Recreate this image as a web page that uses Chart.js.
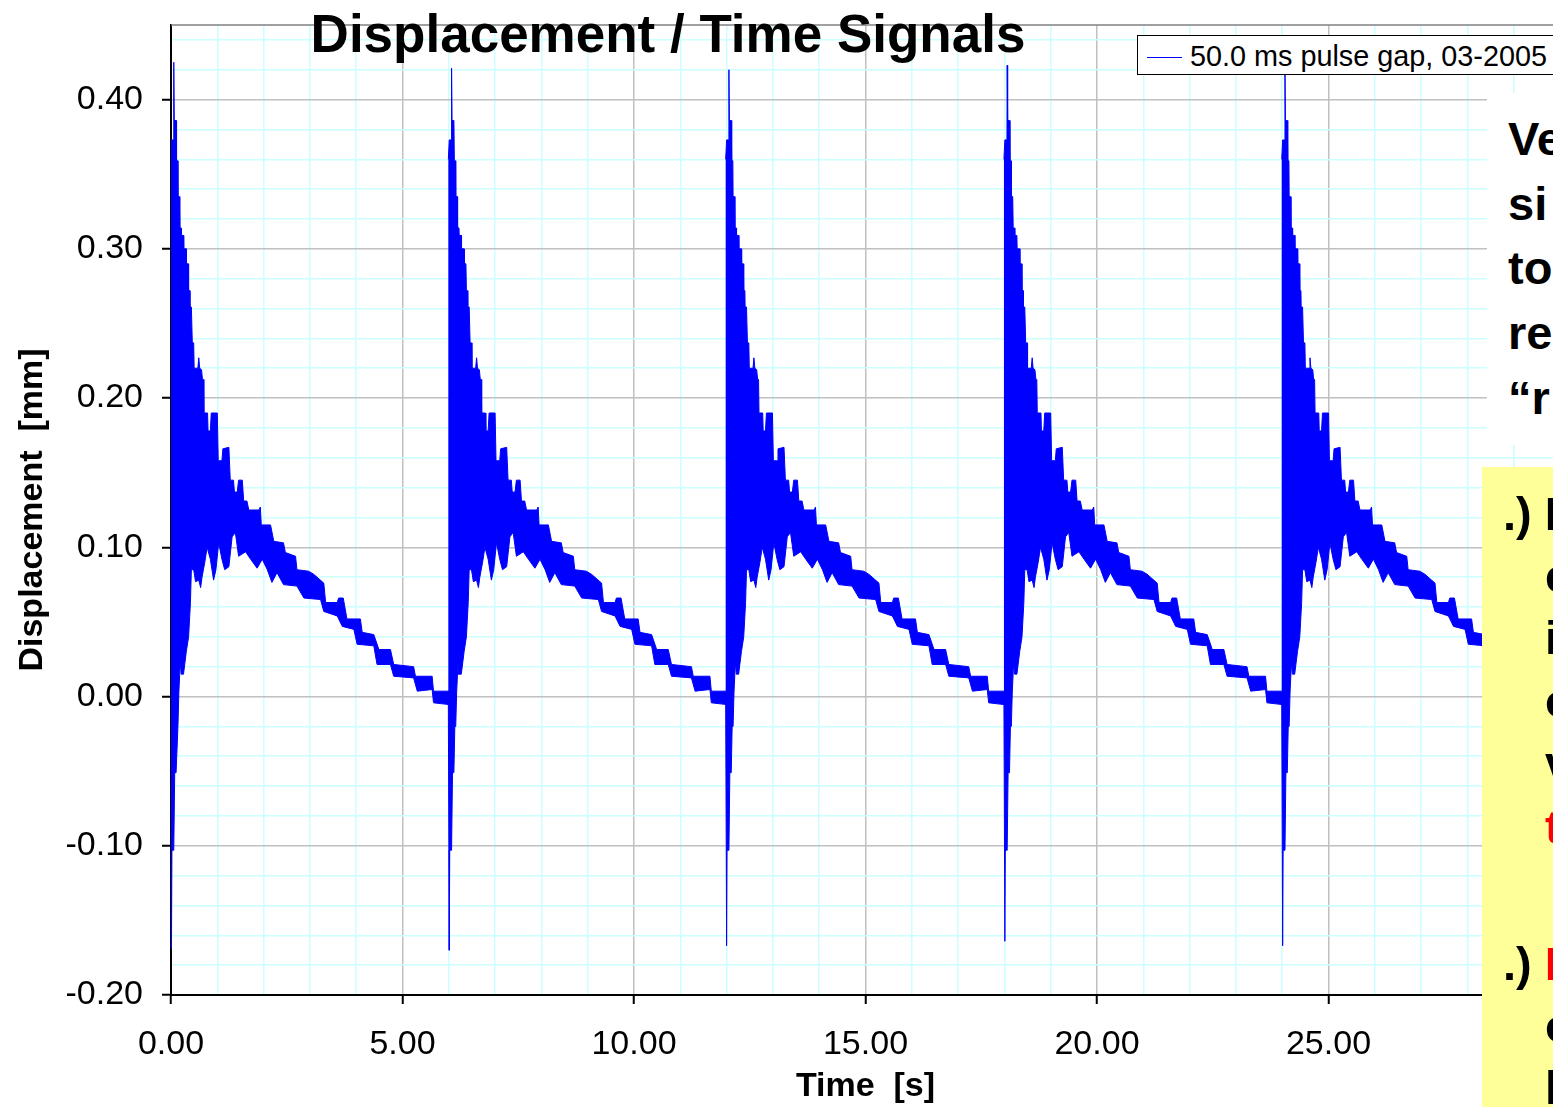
<!DOCTYPE html>
<html>
<head>
<meta charset="utf-8">
<script src="https://cdn.jsdelivr.net/npm/chart.js@4.4.1/dist/chart.umd.min.js"></script>
<style>
  html, body { margin:0; padding:0; background:#ffffff; overflow:hidden; width:1553px; height:1107px; }
  #wrap { position:absolute; left:0; top:0; width:1605px; height:1107px; }
  .ov { position:absolute; font-family:"Liberation Sans", Arial, sans-serif; white-space:pre; color:#000; }
  #title { left:0; top:7px; width:1336px; text-align:center; font-size:53px; line-height:53px; font-weight:bold; }
  #legend { left:1137px; top:35px; width:425px; height:38px; border:1.5px solid #000; background:#fff; }
  #legend .ln { position:absolute; left:9px; top:21px; width:35px; height:0; border-top:1.5px solid #0000FF; }
  #legend .tx { position:absolute; left:52px; top:6px; font-size:28.8px; line-height:28px; }
  #note1 { left:1487px; top:93px; width:90px; height:352px; background:#ffffff; }
  #note2 { left:1482px; top:467px; width:100px; height:640px; background:#FFFF99; }
  .nl { position:absolute; font-size:47px; line-height:47px; font-weight:bold; }
</style>
</head>
<body>
<div id="wrap"><canvas id="c" width="1605" height="1107"></canvas></div>
<div id="title" class="ov"></div>
<div id="legend" class="ov"><span class="ln"></span><span class="tx" id="legtx"></span></div>
<div id="note1" class="ov"></div>
<div id="note2" class="ov"></div>
<script>
// ---------------- data ----------------
const chartTitle = 'Displacement / Time Signals';
const xAxisTitle = 'Time  [s]';
const yAxisTitle = 'Displacement  [mm]';
const seriesLabel = '50.0 ms pulse gap, 03-2005';

// times [s] at which each displacement pulse starts
const pulseStarts = [0.02, 6.02, 12.01, 18.02, 24.02];
// highest and lowest value reached in each pulse [mm]
const pulsePeakMax = [0.425, 0.421, 0.420, 0.423, 0.419];
const pulsePeakMin = [-0.169, -0.170, -0.167, -0.164, -0.167];

// upper envelope of the signal after a pulse: time after pulse [s] / displacement [mm]
const upperT = [-0.03, -0.01, 0.035, 0.040, 0.050, 0.090, 0.100, 0.125, 0.130, 0.160,
                0.170, 0.200, 0.205, 0.250, 0.255, 0.310, 0.315, 0.350, 0.360, 0.385,
                0.390, 0.420, 0.440, 0.470, 0.480, 0.560, 0.580, 0.600, 0.640, 0.660,
                0.680, 0.690, 0.770, 0.780, 0.830, 0.850, 0.980, 1.000, 1.080, 1.100,
                1.230, 1.260, 1.330, 1.350, 1.410, 1.440, 1.520, 1.550, 1.620, 1.660,
                1.880, 1.910, 1.930, 2.130, 2.200, 2.410, 2.450, 2.670, 2.700, 2.950,
                3.060, 3.280, 3.320, 3.570, 3.600, 3.700, 3.780, 4.070, 4.110, 4.360,
                4.470, 4.720, 4.790, 5.220, 5.260, 5.620, 5.650, 5.990];
const upperY = [0.360, 0.373, 0.373, 0.425, 0.386, 0.386, 0.359, 0.359, 0.335, 0.335,
                0.314, 0.314, 0.309, 0.309, 0.300, 0.300, 0.290, 0.290, 0.272, 0.272,
                0.261, 0.261, 0.237, 0.237, 0.220, 0.220, 0.227, 0.220, 0.219, 0.2125,
                0.2125, 0.190, 0.190, 0.178, 0.178, 0.190, 0.190, 0.158, 0.158, 0.166,
                0.167, 0.145, 0.145, 0.137, 0.137, 0.145, 0.145, 0.131, 0.131, 0.125,
                0.125, 0.127, 0.115, 0.115, 0.104, 0.103, 0.0965, 0.094, 0.085, 0.084,
                0.082, 0.076, 0.063, 0.063, 0.066, 0.066, 0.052, 0.052, 0.043, 0.0415,
                0.0315, 0.0315, 0.0215, 0.020, 0.0136, 0.0136, 0.0036, 0.0036];
const UPPER_PEAK_INDEX = 3;

// lower envelope of the signal after a pulse: time after pulse [s] / displacement [mm]
const lowerT = [-0.03, -0.01, 0.000, 0.040, 0.060, 0.090, 0.110, 0.130, 0.150, 0.180,
                0.200, 0.250, 0.310, 0.360, 0.400, 0.420, 0.470, 0.510, 0.580, 0.620,
                0.650, 0.710, 0.760, 0.830, 0.900, 0.950, 1.010, 1.080, 1.140, 1.230,
                1.300, 1.370, 1.440, 1.590, 1.700, 1.840, 1.950, 2.060, 2.160, 2.270,
                2.410, 2.700, 2.850, 3.210, 3.280, 3.570, 3.680, 3.930, 4.000, 4.360,
                4.430, 4.720, 4.790, 5.220, 5.300, 5.620, 5.650, 5.990];
const lowerY = [-0.005, -0.169, -0.103, -0.103, -0.051, -0.051, -0.020, -0.020, 0.003, 0.023,
                0.015, 0.015, 0.030, 0.040, 0.063, 0.085, 0.085, 0.077, 0.078, 0.073,
                0.080, 0.090, 0.100, 0.092, 0.078, 0.085, 0.103, 0.092, 0.085, 0.087,
                0.107, 0.110, 0.094, 0.097, 0.092, 0.086, 0.092, 0.085, 0.0765, 0.083,
                0.075, 0.074, 0.066, 0.065, 0.057, 0.054, 0.047, 0.045, 0.035, 0.034,
                0.0215, 0.0215, 0.0136, 0.0125, 0.0036, 0.0047, -0.0042, -0.0054];
const LOWER_PEAK_INDEX = 1;

// axis ranges and ticks
const xMin = 0, xMax = 30, xMinorStep = 1, xMajorStep = 5;
const yMin = -0.20, yMax = 0.45, yMinorStep = 0.02, yMajorStep = 0.10;

// text of the two overlapping text boxes on the right (cut off by the page edge)
const note1Lines = ['Ve', 'si', 'to', 're', '\u201Cr'];
const note2Lines = [
  {t: '.) D', c: '#000', indent: false},
  {t: 'e', c: '#000', indent: true},
  {t: 'i', c: '#000', indent: true},
  {t: 'o', c: '#000', indent: true},
  {t: 'v', c: '#000', indent: true},
  {t: 't', c: '#FF0000', indent: true},
  {t: '.) ', c: '#000', indent: false, red: 'D'},
  {t: 'o', c: '#000', indent: true},
  {t: 'l', c: '#000', indent: true}
];

// ---------------- build ----------------
const FONT = '"Liberation Sans", Arial, sans-serif';
document.getElementById('title').textContent = chartTitle;
document.getElementById('legtx').textContent = seriesLabel;

const n1 = document.getElementById('note1');
note1Lines.forEach((t, i) => {
  const d = document.createElement('div');
  d.className = 'nl';
  d.style.left = '21px';
  d.style.top = (157 - 93 - 42 + i * 64.7) + 'px';
  d.textContent = t;
  n1.appendChild(d);
});
const n2 = document.getElementById('note2');
const note2Base = [532, 594, 656, 719, 781, 845, 982, 1044, 1106];
note2Lines.forEach((l, i) => {
  const d = document.createElement('div');
  d.className = 'nl';
  d.style.left = (l.indent ? 63 : 21) + 'px';
  d.style.top = (note2Base[i] - 467 - 42) + 'px';
  d.style.color = l.c;
  d.textContent = l.t;
  if (l.red) { const s = document.createElement('span'); s.style.color = '#FF0000'; s.textContent = l.red; d.appendChild(s); }
  n2.appendChild(d);
});

const datasets = pulseStarts.map((t0, k) => {
  const up = upperT.map((t, i) => ({x: t0 + t, y: i === UPPER_PEAK_INDEX ? pulsePeakMax[k] : upperY[i]}));
  const lo = lowerT.map((t, i) => ({x: t0 + t, y: i === LOWER_PEAK_INDEX ? pulsePeakMin[k] : lowerY[i]})).reverse();
  return {
    label: seriesLabel,
    data: up.concat(lo),
    borderColor: '#0000FF',
    backgroundColor: '#0000FF',
    borderWidth: 1,
    fill: 'shape',
    pointRadius: 0,
    tension: 0
  };
});

const near = (v, step) => Math.abs(v / step - Math.round(v / step)) < 1e-6;
const GRID_MAJOR = '#C0C0C0', GRID_MINOR = '#CCFFFF';

const frame = {
  id: 'frame',
  beforeDatasetsDraw(chart) {
    const {ctx, chartArea: a} = chart;
    ctx.save();
    ctx.strokeStyle = '#808080';
    ctx.lineWidth = 1.5;
    ctx.beginPath();
    ctx.moveTo(a.left, a.top);
    ctx.lineTo(a.right, a.top);
    ctx.stroke();
    ctx.restore();
  }
};

new Chart(document.getElementById('c'), {
  type: 'line',
  data: { datasets },
  plugins: [frame],
  options: {
    responsive: false,
    animation: false,
    events: [],
    layout: { padding: { left: 0, top: 25, right: 45, bottom: 0 } },
    plugins: { legend: { display: false }, tooltip: { enabled: false }, title: { display: false } },
    scales: {
      x: {
        type: 'linear', min: xMin, max: xMax,
        ticks: {
          stepSize: xMinorStep, autoSkip: false, maxRotation: 0, minRotation: 0, padding: 20,
          color: '#000', font: { family: FONT, size: 34 },
          callback: (v) => near(v, xMajorStep) ? (Math.round(v * 100) / 100).toFixed(2) : ''
        },
        grid: {
          color: (c) => near(c.tick.value, xMajorStep) ? GRID_MAJOR : GRID_MINOR,
          lineWidth: 1.5, tickLength: 9, tickWidth: 2,
          tickColor: (c) => near(c.tick.value, xMajorStep) ? '#000' : 'rgba(0,0,0,0)'
        },
        border: { color: '#000', width: 2 },
        title: { display: true, text: xAxisTitle, color: '#000', font: { family: FONT, size: 34, weight: 'bold' }, padding: { top: 0, bottom: 0 } },
        afterFit: (s) => { s.height = 112; s.paddingLeft = 0; s.paddingRight = 0; }
      },
      y: {
        type: 'linear', min: yMin, max: yMax,
        ticks: {
          stepSize: yMinorStep, autoSkip: false, includeBounds: false, padding: 19,
          color: '#000', font: { family: FONT, size: 34 },
          callback: (v) => near(v, yMajorStep) ? (Math.round(v * 100) / 100).toFixed(2) : ''
        },
        grid: {
          color: (c) => near(c.tick.value, yMajorStep) ? GRID_MAJOR : GRID_MINOR,
          lineWidth: 1.5, tickLength: 9, tickWidth: 2,
          tickColor: (c) => near(c.tick.value, yMajorStep) ? '#000' : 'rgba(0,0,0,0)'
        },
        border: { color: '#000', width: 2 },
        title: { display: true, text: yAxisTitle, color: '#000', font: { family: FONT, size: 34, weight: 'bold' }, padding: { top: 12, bottom: 0 } },
        afterFit: (s) => { s.width = 171; s.paddingTop = 0; s.paddingBottom = 0; }
      }
    }
  }
});
</script>
</body>
</html>
